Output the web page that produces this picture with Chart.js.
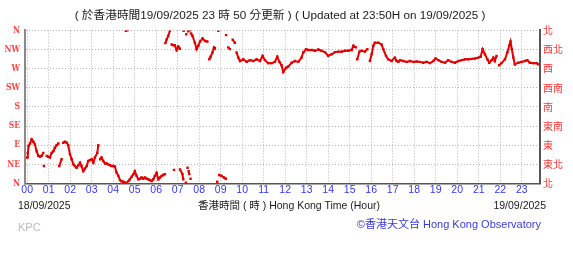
<!DOCTYPE html>
<html><head><meta charset="utf-8">
<script src="https://cdn.jsdelivr.net/npm/chart.js@4"></script>
<style>
html,body{margin:0;padding:0;background:#fff;}
#wrap{position:relative;width:573px;height:267px;overflow:hidden;font-family:"Liberation Sans","Noto Sans CJK TC",sans-serif;}
canvas{position:absolute;left:0;top:0;}
.t{position:absolute;font-size:11px;line-height:14px;white-space:nowrap;color:#1a1a1a;}
.c{transform:translateX(-50%);}
</style></head><body>
<div id="wrap">
<canvas id="c" width="573" height="267"></canvas>
<div class="t c" id="title" style="left:280px;top:8px;font-size:11.7px"></div>
<div class="t c" id="xtitle" style="left:289px;top:198px;font-size:10.5px"></div>
<div class="t" style="left:18px;top:198px;font-size:10.5px">18/09/2025</div>
<div class="t" style="right:27px;top:198px;font-size:10.5px">19/09/2025</div>
<div class="t" style="left:18px;top:220px;color:#bbb">KPC</div>
<div class="t" style="right:32px;top:217px;color:#3a3ae0;font-size:11px">©香港天文台 Hong Kong Observatory</div>
</div>
<script>
// ---- data ----
const titleText = "( 於香港時間19/09/2025 23 時 50 分更新 ) ( Updated at 23:50H on 19/09/2025 )";
const axisTitle = "香港時間 ( 時 ) Hong Kong Time (Hour)";
const hourLabels = ["00","01","02","03","04","05","06","07","08","09","10","11","12","13","14","15","16","17","18","19","20","21","22","23"];
const compassEn = ["N","NE","E","SE","S","SW","W","NW","N"];
const compassZh = ["北","東北","東","東南","南","西南","西","西北","北"];
// time of reading (hours since 00:00 18/09/2025)
const times = [
 0.00,0.03,0.07,0.13,0.21,0.29,0.36,0.44,0.52,0.60,
 0.67,0.75,0.78,0.91,0.98,1.06,1.14,1.22,1.29,1.37,
 1.45,1.49,1.60,1.68,1.76,1.84,1.91,1.99,2.07,2.15,
 2.22,2.30,2.38,2.46,2.53,2.61,2.69,2.77,2.84,2.92,
 3.00,3.08,3.15,3.26,3.31,3.39,3.46,3.54,3.62,3.70,
 3.77,3.85,3.93,4.00,4.08,4.16,4.24,4.32,4.39,4.47,
 4.55,4.59,4.63,4.66,4.70,4.78,4.86,4.94,5.01,5.09,
 5.17,5.25,5.32,5.40,5.48,5.56,5.63,5.71,5.79,5.87,
 5.94,6.02,6.10,6.18,6.25,6.33,6.41,6.43,6.49,6.56,
 6.64,6.72,6.80,6.83,6.87,6.95,7.03,7.10,7.11,7.22,
 7.26,7.28,7.38,7.40,7.46,7.49,7.51,7.54,7.57,7.60,
 7.62,7.69,7.80,7.88,7.96,8.04,8.16,8.27,8.38,8.47,
 8.53,8.62,8.69,8.73,8.84,8.89,8.93,9.04,9.15,9.24,
 9.25,9.35,9.43,9.56,9.66,9.74,9.82,9.90,10.05,10.21,
 10.36,10.52,10.67,10.83,10.95,11.06,11.21,11.37,11.52,11.63,
 11.73,11.83,11.91,12.04,12.14,12.30,12.45,12.61,12.76,12.84,
 12.97,13.07,13.23,13.38,13.54,13.69,13.85,14.00,14.16,14.31,
 14.47,14.62,14.78,14.93,15.09,15.17,15.29,15.35,15.45,15.55,
 15.71,15.82,15.94,16.02,16.10,16.17,16.33,16.48,16.56,16.69,
 16.79,16.95,17.10,17.18,17.26,17.34,17.49,17.65,17.80,17.96,
 18.11,18.27,18.42,18.58,18.73,18.89,18.99,19.12,19.27,19.43,
 19.58,19.74,19.89,20.05,20.20,20.36,20.51,20.67,20.82,20.98,
 21.09,21.18,21.29,21.40,21.49,21.60,21.68,21.75,21.83,21.95,
 22.06,22.22,22.33,22.42,22.48,22.54,22.61,22.68,22.84,22.99,
 23.15,23.26,23.38,23.54,23.69,23.77
];
// wind direction in degrees (0/360 = N)
const directions = [
 61,72,88,94,104,98,92,76,65,63,
 65,72,41,65,63,61,72,76,84,90,
 94,41,57,96,98,96,90,69,57,45,
 41,37,43,49,41,29,35,41,53,55,
 57,49,61,72,90,57,61,53,47,47,
 45,43,41,41,40,25,18,8,5,4,
 2,359,2,360,5,10,16,22,29,18,
 10,11,14,11,14,11,10,8,6,10,
 18,25,10,14,18,20,22,330,339,347,
 359,327,325,32,325,314,322,317,33,22,
 10,359,2,351,37,358,29,22,360,11,
 353,347,331,316,324,334,341,335,334,292,
 298,308,320,318,4,359,20,18,14,11,
 349,320,316,338,331,308,296,288,292,286,
 290,288,292,288,300,290,283,283,286,298,
 286,278,262,272,275,284,288,286,296,308,
 316,314,314,312,315,312,309,300,304,309,
 310,310,312,312,314,324,320,292,310,312,
 310,316,288,304,324,331,331,327,316,300,
 292,288,296,288,286,290,288,286,288,286,
 287,286,284,286,283,288,294,290,286,284,
 290,286,284,288,290,292,292,293,294,296,
 298,316,304,292,284,290,296,288,300,278,
 283,292,308,324,334,316,296,280,284,286,
 288,290,284,283,283,280
];
const hourValues = hourLabels.map(h => Number(h));
const compassValues = compassEn.map((_, i) => i * 45);

document.getElementById('title').textContent = titleText;
document.getElementById('xtitle').textContent = axisTitle;

Chart.defaults.font.family = '"Liberation Sans","Noto Sans CJK TC",sans-serif';

const RED = '#e60000';
new Chart(document.getElementById('c'), {
  type: 'scatter',
  data: { datasets: [{
    data: times.map((t, i) => ({ x: t, y: directions[i] })),
    showLine: true,
    borderColor: RED,
    borderWidth: 2,
    backgroundColor: RED,
    pointStyle: 'rect',
    pointRadius: 1.7,
    pointHoverRadius: 1.7,
    pointBorderWidth: 0,
    segment: {
      borderColor: ctx => Math.abs(ctx.p1.parsed.y - ctx.p0.parsed.y) > 21 || (ctx.p1.parsed.x - ctx.p0.parsed.x) > 0.3 ? 'rgba(0,0,0,0)' : RED
    }
  }]},
  options: {
    responsive: false, animation: false, devicePixelRatio: 1,
    layout: { padding: { top: 30.4, left: 0, right: 0, bottom: 70.9 } },
    plugins: { legend: { display: false }, tooltip: { enabled: false }, title: { display: false } },
    scales: {
      x: {
        type: 'linear', min: -0.1, max: 23.85,
        afterBuildTicks: s => { s.ticks = hourValues.map(v => ({ value: v })); },
        ticks: { color: '#3535ff', font: { size: 10.5 }, padding: 0, autoSkip: false, maxRotation: 0,
                 callback: v => hourLabels[Math.round(v)] },
        grid: { color: '#b5b5b5', lineWidth: 1, drawTicks: false },
        border: { color: '#555', width: 1.5, dash: [1, 2] }
      },
      y: {
        type: 'linear', position: 'left', min: 0, max: 360,
        afterBuildTicks: s => { s.ticks = compassValues.map(v => ({ value: v })); },
        afterFit: s => { s.width = 25; },
        ticks: { color: '#ff4444', font: { family: '"DejaVu Serif Condensed","Liberation Serif",serif', size: 8.5, weight: 'bold' }, padding: 5,
                 callback: v => compassEn[Math.round(v / 45)] },
        grid: { color: '#b5b5b5', lineWidth: 1, drawTicks: false },
        border: { color: '#8a8a8a', width: 2, dash: [1, 2] }
      },
      y2: {
        type: 'linear', position: 'right', min: 0, max: 360,
        afterBuildTicks: s => { s.ticks = compassValues.map(v => ({ value: v })); },
        afterFit: s => { s.width = 33; },
        ticks: { color: '#ff3333', font: { family: '"Noto Sans CJK TC"', size: 10 }, padding: 3,
                 callback: v => compassZh[Math.round(v / 45)] },
        grid: { drawOnChartArea: false, drawTicks: false },
        border: { color: '#555', width: 2 }
      }
    }
  }
});
</script>
</body></html>
